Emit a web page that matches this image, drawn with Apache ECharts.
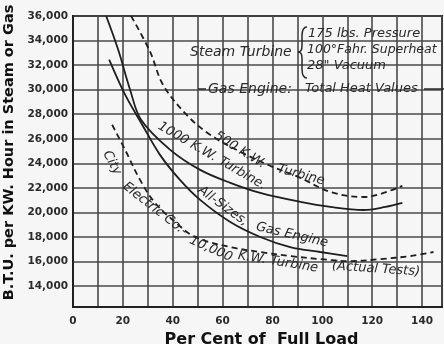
<!DOCTYPE html>
<html><head><meta charset="utf-8">
<script src="https://cdn.jsdelivr.net/npm/echarts@6/dist/echarts.min.js"></script>
<style>html,body{margin:0;padding:0;background:#f6f6f6;}#c{width:444px;height:344px;}</style>
</head><body><div id="c"></div>
<script>
// ---- data ----
const xTickLabels = [0, 20, 40, 60, 80, 100, 120, 140];
const yTickLabels = [14000, 16000, 18000, 20000, 22000, 24000, 26000, 28000, 30000, 32000, 34000, 36000];

const kw500Load = [23.3, 30.9, 36.1, 45.8, 55.0, 67.1, 79.1, 91.2, 103.2, 116.5, 123.3, 132.1];
const kw500Btu  = [36000, 33100, 30400, 27900, 26330, 24940, 23800, 22820, 21670, 21260, 21510, 22160];

const kw1000Load = [13.3, 18.1, 22.9, 27.3, 39.0, 51.0, 63.1, 75.1, 91.2, 103.2, 116.5, 125.3, 132.1];
const kw1000Btu  = [36000, 33270, 30000, 27550, 25100, 23470, 22410, 21590, 20860, 20450, 20200, 20450, 20780];

const gasLoad = [14.5, 20.9, 27.3, 34.9, 42.9, 51.0, 63.1, 75.1, 87.1, 99.2, 110.0];
const gasBtu  = [32450, 29590, 27310, 24690, 22650, 21020, 19220, 18000, 17180, 16780, 16450];

const cityLoad = [15.7, 20.9, 26.9, 32.9, 41.0, 49.0, 63.1, 75.1, 87.1, 99.2, 111.2, 123.3, 135.3, 144.6];
const cityBtu  = [27140, 25100, 22650, 20780, 19220, 18000, 17180, 16780, 16450, 16200, 16040, 16200, 16450, 16780];

function zip(a, b) { return a.map((v, i) => [v, b[i]]); }
function fmt(v) { return String(v).replace(/\B(?=(\d{3})+(?!\d))/g, ','); }

const chart = echarts.init(document.getElementById('c'), null, {renderer: 'canvas'});
const ink = '#1e1e1e';
const gridInk = '#4a4a4a';
const txt = {fontFamily: 'DejaVu Sans', fontStyle: 'italic', fill: '#2a2a2a'};
const deg = Math.PI / 180;
function label(text, x, y, rotDeg, size, align) {
  return {type: 'text', x: x, y: y, rotation: rotDeg * deg, z: 10,
    style: Object.assign({}, txt, {text: text, fontSize: size || 13, align: align || 'center', verticalAlign: 'middle'})};
}
const penStyle = {stroke: '#2a2a2a', lineWidth: 1.5, fill: null};
function seg(x1, y1, x2, y2) { return {type: 'line', z: 10, shape: {x1, y1, x2, y2}, style: penStyle}; }
function bez(x1, y1, cpx1, cpy1, cpx2, cpy2, x2, y2) {
  return {type: 'bezierCurve', z: 10, shape: {x1, y1, x2, y2, cpx1, cpy1, cpx2, cpy2}, style: penStyle};
}

const lineBase = {type: 'line', showSymbol: false, symbol: 'none', smooth: 0.35, clip: true, silent: true};
const tickFont = {fontFamily: 'DejaVu Sans', fontWeight: 'bold', fontSize: 10.5, color: '#2a2a2a'};

chart.setOption({
  backgroundColor: '#f6f6f6',
  animation: false,
  grid: {left: 73, right: 2, top: 16, bottom: 37, show: true, borderColor: '#222', borderWidth: 2,
    backgroundColor: 'transparent', containLabel: false, outerBoundsMode: 'none'},
  xAxis: {
    type: 'value', min: 0, max: 148, interval: 10,
    name: 'Per Cent of  Full Load', nameLocation: 'middle', nameGap: 17,
    nameTextStyle: {fontFamily: 'DejaVu Sans', fontWeight: 'bold', fontSize: 16, color: '#111', padding: [0, 0, 0, 8]},
    axisLine: {show: true, lineStyle: {color: '#222', width: 2}},
    axisTick: {show: false},
    axisLabel: Object.assign({margin: 9, showMaxLabel: false,
      formatter: v => (xTickLabels.indexOf(v) >= 0 ? String(v) : '')}, tickFont),
    splitLine: {show: true, lineStyle: {color: gridInk, width: 1.6}}
  },
  yAxis: {
    type: 'value', min: 12300, max: 36000, splitNumber: 12, minInterval: 2000, maxInterval: 2000,
    name: 'B.T.U. per KW. Hour in Steam or Gas', nameLocation: 'middle', nameGap: 50, nameRotate: 90,
    nameTextStyle: {fontFamily: 'DejaVu Sans', fontWeight: 'bold', fontSize: 14.5, color: '#111', padding: [0, 0, 0, 18]},
    axisLine: {show: true, lineStyle: {color: '#222', width: 2}},
    axisTick: {show: false},
    axisLabel: Object.assign({margin: 5, showMinLabel: false,
      formatter: v => (yTickLabels.indexOf(v) >= 0 ? fmt(v) : '')}, tickFont),
    splitLine: {show: true, lineStyle: {color: gridInk, width: 1.6}}
  },
  series: [
    Object.assign({}, lineBase, {name: '500 K.W. Turbine', data: zip(kw500Load, kw500Btu),
      lineStyle: {color: ink, width: 1.8, type: [6, 4]}}),
    Object.assign({}, lineBase, {name: '1000 K.W. Turbine', data: zip(kw1000Load, kw1000Btu),
      lineStyle: {color: ink, width: 1.8}}),
    Object.assign({}, lineBase, {name: 'All-Sizes, Gas Engine', data: zip(gasLoad, gasBtu),
      lineStyle: {color: ink, width: 1.8}}),
    Object.assign({}, lineBase, {name: 'City Electric Co. 10,000 K.W. Turbine', data: zip(cityLoad, cityBtu),
      lineStyle: {color: ink, width: 1.8, type: [6, 4]}})
  ],
  graphic: [
    label('Steam Turbine', 190, 52, 0, 14, 'left'),
    bez(307, 27, 303, 27, 302, 31, 302, 36),
    seg(302, 36, 302, 46),
    bez(302, 46, 302, 50, 300, 52, 298, 52),
    bez(298, 52, 300, 52, 302, 54, 302, 58),
    seg(302, 58, 302, 69),
    bez(302, 69, 302, 74, 303, 78, 307, 78),
    label('175 lbs. Pressure', 308, 34, 0, 13, 'left'),
    label('100\u00b0Fahr. Superheat', 307, 50, 0, 12.5, 'left'),
    label('28" Vacuum', 307, 66, 0, 13, 'left'),
    seg(198, 89, 206, 89),
    label('Gas Engine:', 208, 89, 0, 14, 'left'),
    label('Total Heat Values', 305, 89, 0, 13, 'left'),
    seg(424, 89, 444, 89),
    label('500 K.W.', 240, 150, -32, 13),
    label('Turbine', 301, 175, -15, 13),
    label('1000 K.W. Turbine.', 212, 156, -30, 13),
    label('All-Sizes,', 223, 206, -36, 13),
    label('Gas Engine', 292, 235, -13, 13),
    label('City', 112, 163, -62, 13),
    label('Electric Co.-', 155, 209, -38, 13),
    label('10,000', 211, 249, -24, 13),
    label('K.W. Turbine', 278, 262, -9, 13),
    label('(Actual Tests)', 376, 269, -4, 13)
  ]
});
</script></body></html>
